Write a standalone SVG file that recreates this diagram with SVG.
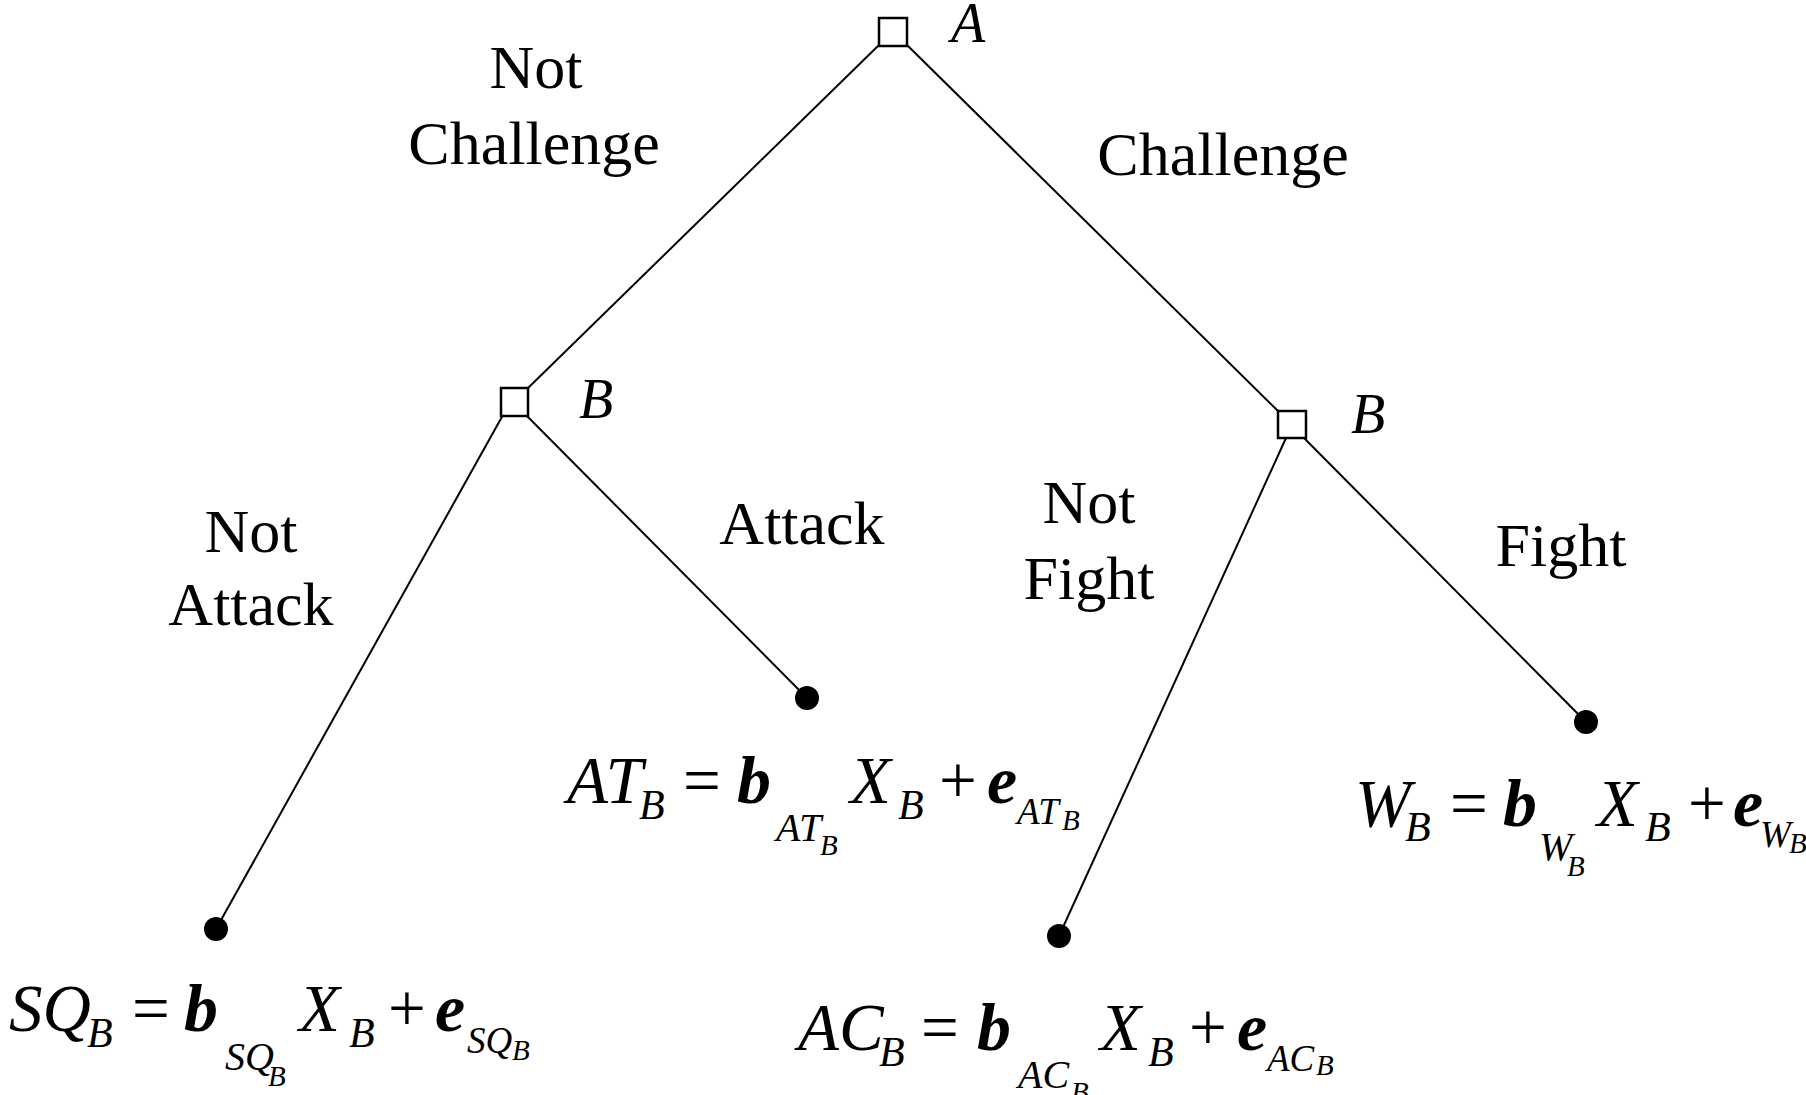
<svg xmlns="http://www.w3.org/2000/svg" width="1806" height="1095" viewBox="0 0 1806 1095">
<style>
text{font-family:"Liberation Serif","Times New Roman",serif;fill:#000}
.lbl{font-size:62px;text-anchor:middle}
.v{font-size:56px;font-style:italic}
.m{font-size:67px;font-style:italic}
.op{font-size:67px}
.bb{font-size:68px;font-style:italic;font-weight:bold}
.s{font-size:42px;font-style:italic}
.s2{font-size:40px;font-style:italic}
.se{font-size:37px;font-style:italic}
.s3{font-size:29px;font-style:italic}
.box{fill:#fff;stroke:#000;stroke-width:2.5}
.edge{stroke:#000;stroke-width:2;fill:none}
.leaf{fill:#000}
</style>
<rect width="1806" height="1095" fill="#fff"/>
<g id="connectors">
<line class="edge" x1="879" y1="45" x2="527" y2="389"/>
<line class="edge" x1="907" y1="45" x2="1279" y2="412"/>
<line class="edge" x1="503" y1="415" x2="216" y2="929"/>
<line class="edge" x1="526" y1="415" x2="807" y2="698"/>
<line class="edge" x1="1286" y1="438" x2="1059" y2="936"/>
<line class="edge" x1="1304" y1="438" x2="1586" y2="722"/>
</g>
<g id="node-A">
<rect class="box" x="879" y="18" width="28" height="28"/>
<text class="v" x="951" y="42">A</text>
</g>
<g id="node-B1">
<rect class="box" x="501" y="388" width="27" height="28"/>
<text class="v" x="579" y="418">B</text>
</g>
<g id="node-B2">
<rect class="box" x="1278" y="411" width="28" height="27"/>
<text class="v" x="1351" y="433">B</text>
</g>
<g id="labels">
<text class="lbl" x="536" y="88">Not</text>
<text class="lbl" x="534" y="164">Challenge</text>
<text class="lbl" x="1223" y="175">Challenge</text>
<text class="lbl" x="251" y="552">Not</text>
<text class="lbl" x="251" y="625">Attack</text>
<text class="lbl" x="802" y="544">Attack</text>
<text class="lbl" x="1089" y="523">Not</text>
<text class="lbl" x="1089" y="599">Fight</text>
<text class="lbl" x="1561" y="566">Fight</text>
</g>
<g id="leaf-SQ">
<circle class="leaf" cx="216" cy="929" r="12"/>
<text class="m" x="9" y="1031">SQ</text>
<text class="s" x="87" y="1047">B</text>
<text class="op" x="132" y="1031">=</text>
<text class="bb" x="184" y="1031">b</text>
<text class="s2" x="225" y="1070">SQ</text>
<text class="s3" x="268" y="1086">B</text>
<text class="m" x="299" y="1031">X</text>
<text class="s" x="349" y="1047">B</text>
<text class="op" x="388" y="1031">+</text>
<text class="bb" x="435" y="1031">e</text>
<text class="se" x="467" y="1053">SQ</text>
<text class="s3" x="512" y="1060">B</text>
</g>
<g id="leaf-AT">
<circle class="leaf" cx="807" cy="698" r="12"/>
<text class="m" x="567" y="803">AT</text>
<text class="s" x="639" y="819">B</text>
<text class="op" x="683" y="803">=</text>
<text class="bb" x="737" y="803">b</text>
<text class="s2" x="776" y="841">AT</text>
<text class="s3" x="820" y="855">B</text>
<text class="m" x="850" y="803">X</text>
<text class="s" x="898" y="819">B</text>
<text class="op" x="939" y="803">+</text>
<text class="bb" x="987" y="803">e</text>
<text class="se" x="1017" y="824">AT</text>
<text class="s3" x="1062" y="830">B</text>
</g>
<g id="leaf-AC">
<circle class="leaf" cx="1059" cy="936" r="12"/>
<text class="m" x="798" y="1050">AC</text>
<text class="s" x="879" y="1066">B</text>
<text class="op" x="921" y="1050">=</text>
<text class="bb" x="977" y="1050">b</text>
<text class="s2" x="1018" y="1088">AC</text>
<text class="s3" x="1071" y="1102">B</text>
<text class="m" x="1100" y="1050">X</text>
<text class="s" x="1148" y="1066">B</text>
<text class="op" x="1189" y="1050">+</text>
<text class="bb" x="1237" y="1050">e</text>
<text class="se" x="1267" y="1071">AC</text>
<text class="s3" x="1316" y="1075">B</text>
</g>
<g id="leaf-W">
<circle class="leaf" cx="1586" cy="722" r="12"/>
<text class="m" x="1355" y="826">W</text>
<text class="s" x="1405" y="841">B</text>
<text class="op" x="1450" y="826">=</text>
<text class="bb" x="1503" y="826">b</text>
<text class="s2" x="1539" y="860">W</text>
<text class="s3" x="1567" y="876">B</text>
<text class="m" x="1597" y="826">X</text>
<text class="s" x="1645" y="841">B</text>
<text class="op" x="1688" y="826">+</text>
<text class="bb" x="1733" y="826">e</text>
<text class="se" x="1760" y="847">W</text>
<text class="s3" x="1789" y="853">B</text>
</g>
</svg>
